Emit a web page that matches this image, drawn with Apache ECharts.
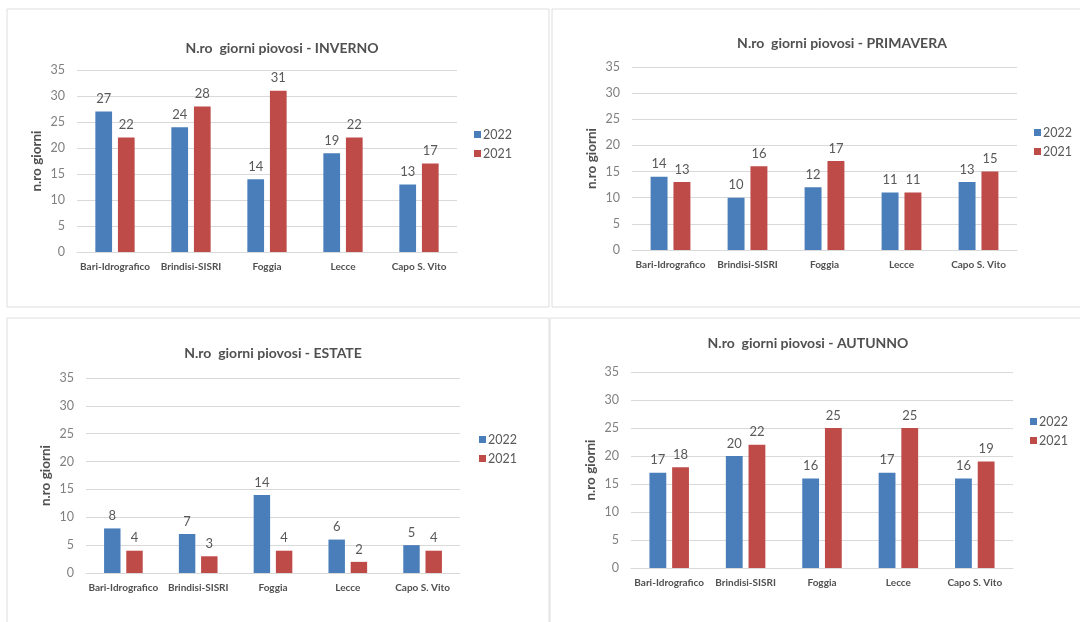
<!DOCTYPE html>
<html>
<head>
<meta charset="utf-8">
<script src="https://cdn.jsdelivr.net/npm/echarts@6/dist/echarts.min.js"></script>
<style>
html,body{margin:0;padding:0;background:#fff;}
#c{width:1080px;height:622px;}
</style>
</head>
<body>
<div id="c"></div>
<script>
const categories = ['Bari-Idrografico', 'Brindisi-SISRI', 'Foggia', 'Lecce', 'Capo S. Vito'];
const seriesNames = ['2022', '2021'];
const yTicks = [0, 5, 10, 15, 20, 25, 30, 35];

const inverno2022 = [27, 24, 14, 19, 13];
const inverno2021 = [22, 28, 31, 22, 17];
const primavera2022 = [14, 10, 12, 11, 13];
const primavera2021 = [13, 16, 17, 11, 15];
const estate2022 = [8, 7, 14, 6, 5];
const estate2021 = [4, 3, 4, 2, 4];
const autunno2022 = [17, 20, 16, 17, 16];
const autunno2021 = [18, 22, 25, 25, 19];

const titles = [
  'N.ro  giorni piovosi - INVERNO',
  'N.ro  giorni piovosi - PRIMAVERA',
  'N.ro  giorni piovosi - ESTATE',
  'N.ro  giorni piovosi - AUTUNNO'
];
const panelData = [
  [inverno2022, inverno2021],
  [primavera2022, primavera2021],
  [estate2022, estate2021],
  [autunno2022, autunno2021]
];

const FONT = 'Lato, "Open Sans", sans-serif';
const BLUE = '#4a7ebb';
const RED = '#be4b48';

// layout
const grids = [
  {left: 77, width: 380, top: 70, height: 182},
  {left: 632, width: 385, top: 67, height: 183},
  {left: 86, width: 374, top: 378, height: 195},
  {left: 631, width: 382, top: 372, height: 196}
];
const titlePos = [
  {x: 277, y: 36},
  {x: 837, y: 31},
  {x: 268, y: 341},
  {x: 803, y: 331}
];
const legendPos = [
  {x: 469, y: 123},
  {x: 1029, y: 121},
  {x: 474, y: 428},
  {x: 1025, y: 410}
];
const panels = [
  {x: 7, y: 9, w: 542, h: 298},
  {x: 552, y: 9, w: 540, h: 298},
  {x: 7, y: 318, w: 542, h: 320},
  {x: 550, y: 318, w: 540, h: 320}
];

const option = {
  backgroundColor: '#ffffff',
  animation: false,
  textStyle: {fontFamily: FONT},
  graphic: panels.map(p => ({
    type: 'rect', shape: {x: p.x, y: p.y, width: p.w, height: p.h},
    style: {fill: 'none', stroke: '#dedede', lineWidth: 1}, silent: true, z: -1
  })),
  title: titles.map((t, i) => ({
    text: t, left: titlePos[i].x, top: titlePos[i].y, textAlign: 'center',
    textStyle: {fontFamily: FONT, fontSize: 14, fontWeight: 'bold', color: '#505050'}
  })),
  legend: legendPos.map((p, i) => ({
    data: seriesNames.map(n => n + '\u200b'.repeat(i)),
    orient: 'vertical', left: p.x, top: p.y,
    itemWidth: 7, itemHeight: 7, itemGap: 6, icon: 'rect',
    formatter: n => n.replace(/\u200b/g, ''),
    textStyle: {fontFamily: FONT, fontSize: 12.5, color: '#595959', padding: [0, 0, 0, -3]}
  })),
  grid: grids.map(g => Object.assign({containLabel: false}, g)),
  xAxis: grids.map((g, i) => ({
    type: 'category', gridIndex: i, data: categories,
    axisLine: {lineStyle: {color: '#d9d9d9'}}, axisTick: {show: false},
    axisLabel: {interval: 0, fontFamily: FONT, fontSize: 10, fontWeight: 'bold', color: '#505050', margin: 10}
  })),
  yAxis: grids.map((g, i) => ({
    type: 'value', gridIndex: i, min: yTicks[0], max: yTicks[yTicks.length - 1], interval: 5,
    name: 'n.ro giorni', nameLocation: 'middle', nameRotate: 90, nameGap: 33,
    nameTextStyle: {fontFamily: FONT, fontSize: 13.5, fontWeight: 'bold', color: '#505050'},
    axisLine: {show: false}, axisTick: {show: false},
    axisLabel: {fontFamily: FONT, fontSize: 12.5, color: '#808080', margin: 12},
    splitLine: {lineStyle: {color: '#d9d9d9'}}
  })),
  series: []
};

panelData.forEach((pair, i) => {
  pair.forEach((vals, k) => {
    option.series.push({
      type: 'bar', name: seriesNames[k] + '\u200b'.repeat(i), xAxisIndex: i, yAxisIndex: i,
      data: vals, barWidth: '22%', barGap: '35%',
      itemStyle: {color: k === 0 ? BLUE : RED},
      label: {show: true, position: 'top', distance: 6, fontFamily: FONT, fontSize: 13, color: '#595959'}
    });
  });
});

const chart = echarts.init(document.getElementById('c'), null, {renderer: 'canvas'});
chart.setOption(option);
</script>
</body>
</html>
